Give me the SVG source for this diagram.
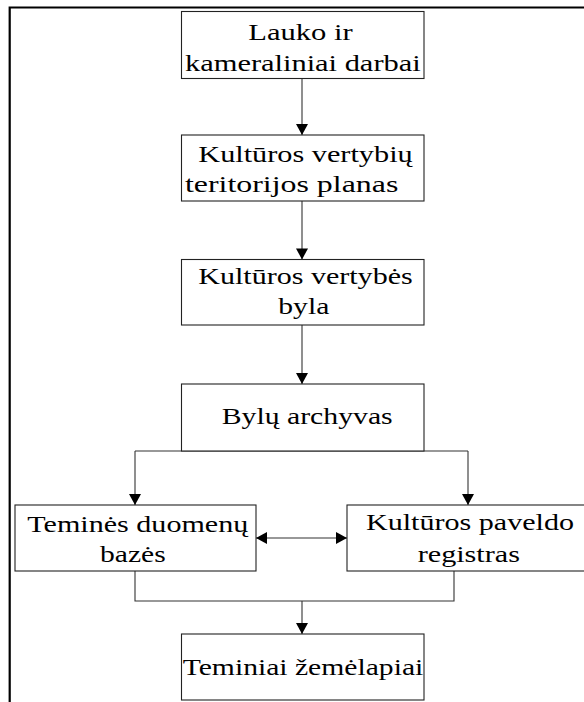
<svg xmlns="http://www.w3.org/2000/svg" width="584" height="702" viewBox="0 0 584 702">
<style>
.frame{fill:none;stroke:#000;stroke-width:2.2}
.box{fill:#fff;stroke:#222;stroke-width:1.1}
.con{fill:none;stroke:#333;stroke-width:1.1}
.arr{marker-end:url(#ah)}
.t text{font-family:'Liberation Serif','Times New Roman',serif;font-size:23.5px;fill:#000}
</style>
<defs>
<marker id="ah" markerUnits="userSpaceOnUse" markerWidth="12" markerHeight="12" viewBox="0 0 11 12" refX="11" refY="6" orient="auto-start-reverse">
<path d="M0,0 L11,6 L0,12 z" fill="#000"/>
</marker>
</defs>
<rect width="584" height="702" fill="#fff"/>
<path class="frame" d="M9.7,702 V7.5 H584"/>
<g id="connectors">
<path class="con arr" d="M302,78.5 V135"/>
<path class="con arr" d="M302,201 V259.5"/>
<path class="con arr" d="M302,325 V384"/>
<path class="con" d="M135,451 H468"/>
<path class="con arr" d="M135,451 V505"/>
<path class="con arr" d="M468,451 V505"/>
<path class="con" d="M256,538 H347" marker-start="url(#ah)" marker-end="url(#ah)"/>
<path class="con" d="M135,571 V601 H454 V571"/>
<path class="con arr" d="M302,601 V634"/>
</g>
<g id="node1" class="t">
<rect class="box" x="181.5" y="11.5" width="242.5" height="67"/>
<text x="248.3" y="40" textLength="104.4" lengthAdjust="spacingAndGlyphs">Lauko ir</text>
<text x="185" y="71" textLength="235.7" lengthAdjust="spacingAndGlyphs">kameraliniai darbai</text>
</g>
<g id="node2" class="t">
<rect class="box" x="181.5" y="135" width="242.5" height="66"/>
<text x="198.3" y="162.3" textLength="214.4" lengthAdjust="spacingAndGlyphs">Kultūros vertybių</text>
<text x="185" y="192" textLength="213.3" lengthAdjust="spacingAndGlyphs">teritorijos planas</text>
</g>
<g id="node3" class="t">
<rect class="box" x="181.5" y="259.5" width="242.5" height="65.5"/>
<text x="198.3" y="284" textLength="214.4" lengthAdjust="spacingAndGlyphs">Kultūros vertybės</text>
<text x="278.3" y="314.3" textLength="51" lengthAdjust="spacingAndGlyphs">byla</text>
</g>
<g id="node4" class="t">
<rect class="box" x="181.5" y="384" width="242.5" height="67"/>
<text x="221.7" y="424.3" textLength="171" lengthAdjust="spacingAndGlyphs">Bylų archyvas</text>
</g>
<g id="node5" class="t">
<rect class="box" x="15" y="505" width="241" height="66"/>
<text x="27.3" y="531.7" textLength="221" lengthAdjust="spacingAndGlyphs">Teminės duomenų</text>
<text x="100" y="562.3" textLength="65.7" lengthAdjust="spacingAndGlyphs">bazės</text>
</g>
<g id="node6" class="t">
<rect class="box" x="347" y="505" width="245" height="66"/>
<text x="366" y="530" textLength="208" lengthAdjust="spacingAndGlyphs">Kultūros paveldo</text>
<text x="417.7" y="561.7" textLength="102.3" lengthAdjust="spacingAndGlyphs">registras</text>
</g>
<g id="node7" class="t">
<rect class="box" x="181.5" y="634" width="242.5" height="66"/>
<text x="182.7" y="675" textLength="240.6" lengthAdjust="spacingAndGlyphs">Teminiai žemėlapiai</text>
</g>
</svg>
